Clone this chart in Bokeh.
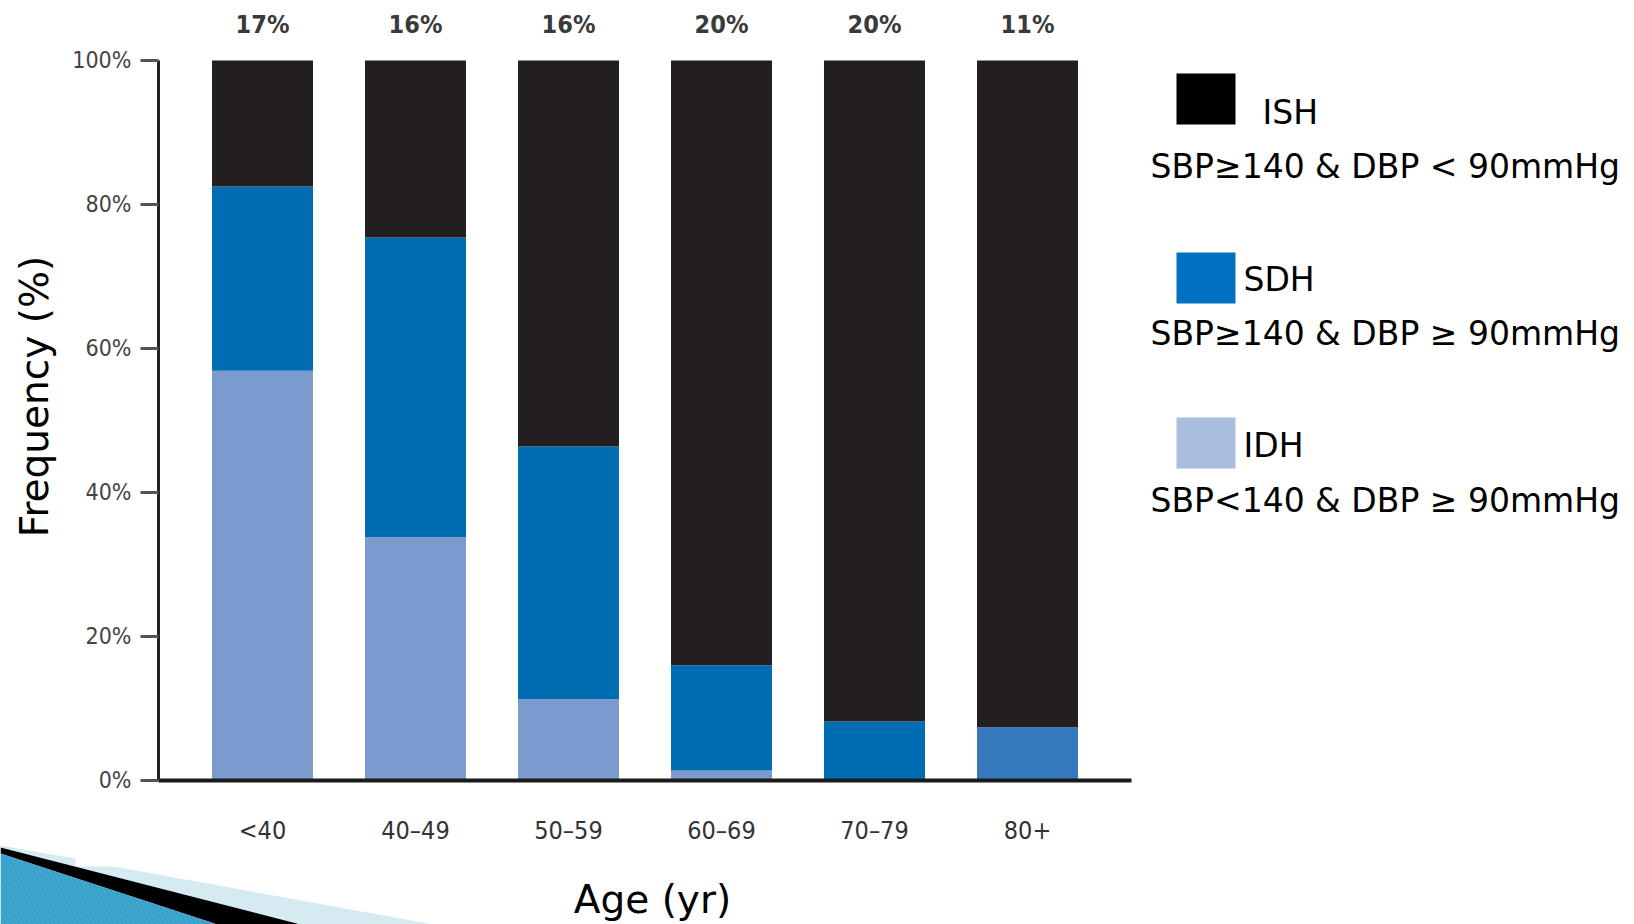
import numpy as np
from bokeh.plotting import figure
from bokeh.models import (ColumnDataSource, Range1d, FixedTicker,
                          Label, BoxAnnotation, PolyAnnotation)
from bokeh.core.properties import value
from bokeh.embed import file_html
from bokeh.resources import INLINE

# ---------------- data ----------------
age_groups = ["<40", "40–49", "50–59", "60–69", "70–79", "80+"]
top_labels = ["17%", "16%", "16%", "20%", "20%", "11%"]
idh = [56.9, 33.8, 11.3, 1.4, 0.0, 0.0]
sdh = [25.6, 41.6, 35.1, 14.6, 8.2, 7.4]
ish = [17.5, 24.6, 53.6, 84.0, 91.8, 92.6]
sdh_colors = ["#006DB3", "#006DB3", "#006DB3", "#006DB3", "#006DB3", "#3479BB"]

y_ticks = [0, 20, 40, 60, 80, 100]
y_tick_labels = ["0%", "20%", "40%", "60%", "80%", "100%"]

series_names = ["ISH", "SDH", "IDH"]
series_desc = ["SBP≥140 & DBP < 90mmHg", "SBP≥140 & DBP ≥ 90mmHg", "SBP<140 & DBP ≥ 90mmHg"]
legend_colors = ["#000000", "#0070C0", "#A9BEDF"]

x_title = "Age (yr)"
y_title = "Frequency (%)"

ish_color = "#231F20"
idh_color = "#7B9BCF"
tick_font = "DejaVu Sans Condensed"
title_font = "DejaVu Sans"

# ---------------- figure (frame covers whole canvas) ----------------
W, H = 1634, 924
x_pos = np.arange(len(age_groups))
p = figure(x_range=Range1d(-1.7124, 8.9673), y_range=Range1d(-20.0, 108.333),
           width=W, height=H, output_backend="svg", toolbar_location=None,
           min_border=0)
p.title.visible = False
p.outline_line_color = None
p.xgrid.grid_line_color = None
p.ygrid.grid_line_color = None
p.background_fill_color = "white"
p.border_fill_color = "white"

idh_a = np.array(idh)
sdh_a = np.array(sdh)
ish_a = np.array(ish)
src = ColumnDataSource(dict(
    x=x_pos,
    idh_top=idh_a,
    sdh_top=idh_a + sdh_a,
    total=idh_a + sdh_a + ish_a,
    sdh_color=sdh_colors,
    label=top_labels,
))

bw = 0.66
p.vbar(x="x", bottom=0, top="idh_top", width=bw, fill_color=idh_color,
       line_color=None, source=src)
p.vbar(x="x", bottom="idh_top", top="sdh_top", width=bw, fill_color="sdh_color",
       line_color=None, source=src)
p.vbar(x="x", bottom="sdh_top", top="total", width=bw, fill_color=ish_color,
       line_color=None, source=src)

p.text(x="x", y="total", text="label", source=src, y_offset=-36,
       text_font=value(tick_font), text_font_size="25px",
       text_font_style="bold", text_color="#3a3a3a",
       text_align="center", text_baseline="middle")

# x axis (placed at y = 0)
xa = p.xaxis[0]
xa.fixed_location = 0
xa.bounds = (-0.68, 5.68)
xa.ticker = FixedTicker(ticks=list(x_pos))
xa.major_label_overrides = {int(i): g for i, g in zip(x_pos, age_groups)}
xa.axis_line_width = 4
xa.axis_line_color = "#1a1a1a"
xa.major_tick_line_color = None
xa.minor_tick_line_color = None
xa.major_tick_out = 0
xa.major_tick_in = 0
xa.major_label_standoff = 36
xa.major_label_text_font = tick_font
xa.major_label_text_font_size = "25px"
xa.major_label_text_color = "#333333"

# y axis (placed at left end of the x axis)
ya = p.yaxis[0]
ya.fixed_location = -0.68
ya.ticker = FixedTicker(ticks=y_ticks)
ya.major_label_overrides = {t: l for t, l in zip(y_ticks, y_tick_labels)}
ya.bounds = (0, 100)
ya.axis_line_width = 3
ya.axis_line_color = "#222222"
ya.major_tick_out = 18
ya.major_tick_in = 0
ya.major_tick_line_width = 3
ya.major_tick_line_color = "#555555"
ya.minor_tick_line_color = None
ya.major_label_standoff = 9
ya.major_label_text_font = tick_font
ya.major_label_text_font_size = "23px"
ya.major_label_text_color = "#444444"

# axis titles
p.add_layout(Label(x=652, y=899, x_units="canvas", y_units="canvas", text=x_title,
                   text_font=title_font, text_font_size="39px", text_color="#000000",
                   text_align="center", text_baseline="middle"))
p.add_layout(Label(x=34, y=396, x_units="canvas", y_units="canvas", text=y_title,
                   angle=np.pi / 2, text_font=title_font, text_font_size="39px",
                   text_color="#000000", text_align="center", text_baseline="middle"))

# ---------------- legend (canvas pixels) ----------------
sq_left, sq_right = 1176, 1235
sq_tops = [73, 252, 417]
name_x = [1262, 1243, 1243]
name_mid = [112, 279, 445]
desc_x = 1150
desc_mid = [166, 333, 500]
for i, name in enumerate(series_names):
    p.add_layout(BoxAnnotation(left=sq_left, right=sq_right, top=sq_tops[i],
                               bottom=sq_tops[i] + 51,
                               left_units="canvas", right_units="canvas",
                               top_units="canvas", bottom_units="canvas",
                               fill_color=legend_colors[i], fill_alpha=1.0,
                               line_color=None))
    p.add_layout(Label(x=name_x[i], y=name_mid[i], x_units="canvas", y_units="canvas",
                       text=name, text_font=title_font, text_font_size="33px",
                       text_color="#000000", text_baseline="middle"))
    p.add_layout(Label(x=desc_x, y=desc_mid[i], x_units="canvas", y_units="canvas",
                       text=series_desc[i], text_font=title_font, text_font_size="33px",
                       text_color="#000000", text_baseline="middle"))

# ---------------- decorative corner ----------------
p.add_layout(PolyAnnotation(xs=[0, 75, 75, 113, 433, 0], ys=[845, 858, 866, 866, 924, 924],
                            xs_units="canvas", ys_units="canvas",
                            fill_color="#D6EAF2", fill_alpha=1.0, line_color=None))
p.add_layout(PolyAnnotation(xs=[0, 300, 217, 0], ys=[847, 924, 924, 853],
                            xs_units="canvas", ys_units="canvas",
                            fill_color="#000000", fill_alpha=1.0, line_color=None))
p.add_layout(PolyAnnotation(xs=[0, 217, 0], ys=[853, 924, 924],
                            xs_units="canvas", ys_units="canvas",
                            fill_color="#3FA6CF", fill_alpha=1.0, line_color=None,
                            hatch_pattern="\\", hatch_color="#2B8CB8", hatch_alpha=0.5,
                            hatch_scale=9, hatch_weight=1))

open("out.html", "w").write(file_html(p, INLINE))
